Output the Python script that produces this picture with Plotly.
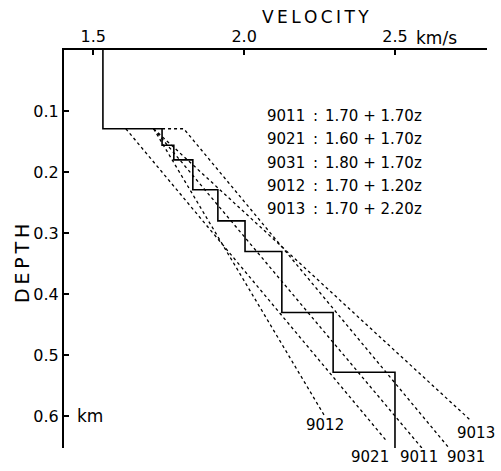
import plotly.graph_objects as go

# ---- data ----
step_velocity = [1.532, 1.728, 1.767, 1.830, 1.913, 2.003, 2.125, 2.295, 2.500]
step_depth_top = [0.0, 0.129, 0.156, 0.180, 0.229, 0.280, 0.330, 0.430, 0.528]
step_depth_bottom = 0.652

line_names = ["9021", "9012", "9011", "9031", "9013"]
line_velocity = [[1.608, 2.473], [1.700, 2.265], [1.700, 2.589], [1.728, 1.800, 2.679], [1.700, 2.749]]
line_depth = [[0.129, 0.641], [0.129, 0.598], [0.129, 0.652], [0.129, 0.129, 0.652], [0.129, 0.606]]

legend_codes = ["9011", "9021", "9031", "9012", "9013"]
legend_formulas = ["1.70 + 1.70z", "1.60 + 1.70z", "1.80 + 1.70z", "1.70 + 1.20z", "1.70 + 2.20z"]

x_ticks = [1.5, 2.0, 2.5]
x_tick_text = ["1.5", "2.0", "2.5"]
y_ticks = [0.1, 0.2, 0.3, 0.4, 0.5, 0.6]

FONT = "DejaVu Sans"
PLOT_L, PLOT_T, PLOT_W, PLOT_H = 64, 50, 423, 398


def px_x(px):
    return (px - PLOT_L) / PLOT_W


def px_y(py):
    return 1 - (py - PLOT_T) / PLOT_H


fig = go.Figure()

# step profile
sx, sy = [], []
bottoms = step_depth_top[1:] + [step_depth_bottom]
for v, t, b in zip(step_velocity, step_depth_top, bottoms):
    sx += [v, v]
    sy += [t, b]
fig.add_trace(go.Scatter(x=sx, y=sy, mode="lines",
                         line=dict(color="black", width=1.6), showlegend=False,
                         hoverinfo="skip"))

for name, xs, ys in zip(line_names, line_velocity, line_depth):
    fig.add_trace(go.Scatter(x=xs, y=ys, mode="lines", name=name,
                             line=dict(color="black", width=1.3, dash="3px,3px"),
                             showlegend=False, hoverinfo="skip"))

ann = []
# legend block
leg_y = [0.108, 0.146, 0.185, 0.223, 0.260]
for code, form, yy in zip(legend_codes, legend_formulas, leg_y):
    ann.append(dict(x=2.070, y=yy, text=code, xanchor="left", yanchor="middle",
                    showarrow=False, font=dict(family=FONT, size=15, color="black")))
    ann.append(dict(x=2.236, y=yy, text=":", xanchor="center", yanchor="middle",
                    showarrow=False, font=dict(family=FONT, size=15, color="black")))
    ann.append(dict(x=2.262, y=yy, text=form, xanchor="left", yanchor="middle",
                    showarrow=False, font=dict(family=FONT, size=15, color="black")))

# end labels (pixel-placed below/around line ends)
end_labels = [("9012", 325, 425), ("9021", 370, 457), ("9011", 419, 457),
              ("9031", 466, 457), ("9013", 476, 433)]
for t, xx, yy in end_labels:
    ann.append(dict(xref="paper", yref="paper", x=px_x(xx), y=px_y(yy), text=t,
                    xanchor="center", yanchor="middle",
                    showarrow=False, font=dict(family=FONT, size=15, color="black")))

thin = "\u2009"
ann.append(dict(xref="paper", yref="paper", x=px_x(315), y=px_y(17),
                text=thin.join("VELOCITY"), xanchor="center", yanchor="middle",
                showarrow=False, font=dict(family=FONT, size=17, color="black")))
ann.append(dict(xref="paper", yref="paper", x=px_x(414), y=px_y(38),
                text="km/s", xanchor="left", yanchor="middle", showarrow=False,
                font=dict(family=FONT, size=17, color="black")))
ann.append(dict(x=1.438, y=0.6, text="km", xanchor="left", yanchor="middle",
                showarrow=False, font=dict(family=FONT, size=17, color="black")))
ann.append(dict(xref="paper", yref="paper", x=px_x(22), y=px_y(264),
                text=thin.join("DEPTH"), textangle=-90, xanchor="center", yanchor="middle",
                showarrow=False, font=dict(family=FONT, size=19, color="black")))

fig.update_layout(
    width=501, height=471,
    margin=dict(l=64, r=14, t=50, b=23),
    paper_bgcolor="white", plot_bgcolor="white",
    annotations=ann,
    xaxis=dict(range=[1.403, 2.805], side="top", tickvals=x_ticks, ticktext=x_tick_text,
               ticks="inside", ticklen=5, tickwidth=1.5, tickcolor="black",
               showline=True, linecolor="black", linewidth=2, showgrid=False,
               zeroline=False, tickfont=dict(family=FONT, size=16, color="black"),
               fixedrange=True),
    yaxis=dict(range=[step_depth_bottom, 0.0], tickvals=y_ticks, tickformat=".1f",
               ticks="inside", ticklen=5, tickwidth=1.5, tickcolor="black",
               showline=True, linecolor="black", linewidth=2, showgrid=False,
               zeroline=False, tickfont=dict(family=FONT, size=16, color="black"),
               fixedrange=True),
)

fig.write_html("out.html")
